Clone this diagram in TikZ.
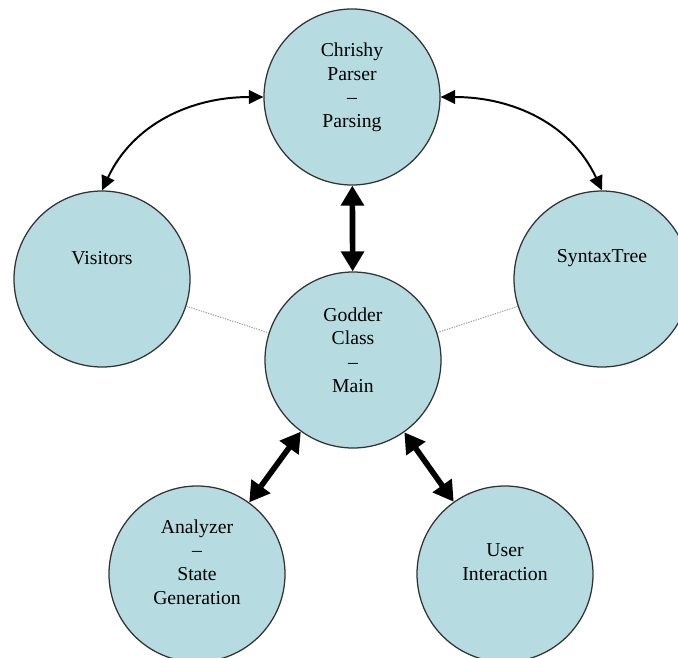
\documentclass[tikz,border=0pt]{standalone}
\usepackage{fontspec}
\setmainfont{Liberation Serif}
\usetikzlibrary{arrows.meta}
\definecolor{bubblefill}{RGB}{182,220,225}
\tikzset{
  bubble/.style={circle, draw=black!80, line width=0.9pt, fill=bubblefill,
    minimum size=4.4cm, inner sep=0pt},
  bubbletext/.style={align=center, inner sep=0pt,
    font=\fontsize{14}{16.8}\selectfont},
  dotlink/.style={gray!80, line width=0.7pt, dash pattern=on 0.9pt off 0.9pt},
  bendlink/.style={line width=1.4pt,
    {Triangle[length=0.36cm,width=0.34cm]}-{Triangle[length=0.36cm,width=0.34cm]}},
  boldlink/.style={line width=4pt,
    {Triangle[length=0.5cm,width=0.56cm]}-{Triangle[length=0.5cm,width=0.56cm]}}
}
\begin{document}
\begin{tikzpicture}
  \useasboundingbox (0,0) rectangle (16.95,-16.425);
  \draw
    (8.8,-2.425) node[bubble] (parser){}
    (2.55,-6.975) node[bubble] (visitors){}
    (15.05,-6.975) node[bubble] (syntaxtree){}
    (8.825,-9.0) node[bubble] (main){}
    (4.925,-14.35) node[bubble] (analyzer){}
    (12.625,-14.35) node[bubble] (user){};
  % texts sit a bit above the centres
  \draw
    ([yshift=0.24cm]parser.center) node[bubbletext] (parser text){Chrishy\\Parser\\--\\Parsing}
    ([yshift=0.52cm]visitors.center) node[bubbletext] (visitors text){Visitors}
    ([yshift=0.52cm]syntaxtree.center) node[bubbletext] (syntaxtree text){SyntaxTree}
    ([yshift=0.25cm]main.center) node[bubbletext] (main text){Godder\\Class\\--\\Main}
    ([yshift=0.3cm]analyzer.center) node[bubbletext] (analyzer text){Analyzer\\--\\State\\Generation}
    ([yshift=0.3cm]user.center) node[bubbletext] (user text){User\\Interaction};
  \begin{scope}[dotlink]
    \draw (visitors) to (main);
    \draw (syntaxtree) to (main);
  \end{scope}
  \begin{scope}[bendlink]
    \draw (visitors.north) to[out=65,in=180] (parser.west);
    \draw (syntaxtree.north) to[out=115,in=0] (parser.east);
  \end{scope}
  \begin{scope}[boldlink]
    \draw (parser) to (main);
    \draw (main) to (analyzer);
    \draw (main) to (user);
  \end{scope}
\end{tikzpicture}
\end{document}
